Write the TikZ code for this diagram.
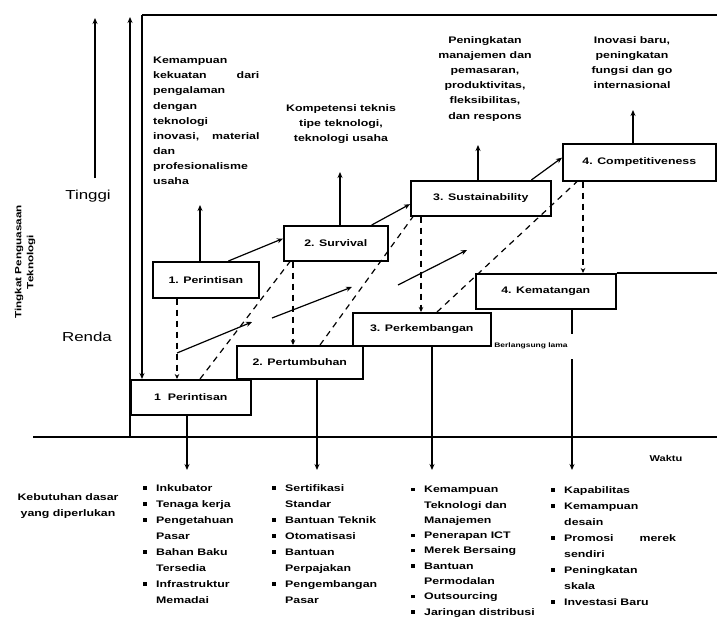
\documentclass[tikz,border=0pt]{standalone}
\usepackage{fontspec}
\setmainfont{Liberation Sans}[FakeStretch=1.3]
\usetikzlibrary{arrows.meta,calc}
\newcommand\mybul{\makebox[13pt][l]{\rule[1.5pt]{3.5pt}{3.5pt}}}
\newcommand\myind{\hspace*{13pt}}
\begin{document}
\begin{tikzpicture}[x=1pt,y=-1pt,
 box/.style={draw,line width=1.6pt,fill=white,inner sep=0pt,anchor=north west,font=\bfseries\fontsize{9.5}{11}\selectfont},
 note/.style={inner sep=0pt,anchor=north,align=center,font=\bfseries\fontsize{9.5}{15.2}\selectfont},
 lst/.style={inner sep=0pt,anchor=north west,align=left,font=\bfseries\fontsize{9.5}{16}\selectfont},
 ln/.style={line width=1.2pt},
 arr/.style={line width=1.2pt,-{Stealth[length=6pt,width=5pt]}},
 dsh/.style={line width=1.2pt,dash pattern=on 6pt off 5pt},
 dsharr/.style={dsh,-{Stealth[length=5pt,width=4.5pt]}}
]
\useasboundingbox (0,0) rectangle (717,618);

% boxes
\node[box,minimum width=106pt,minimum height=36pt] (u1) at (152,261) {1. Perintisan};
\node[box,minimum width=104pt,minimum height=35pt] (u2) at (283,225) {2. Survival};
\node[box,minimum width=140pt,minimum height=35pt] (u3) at (410,180) {3. Sustainability};
\node[box,minimum width=153pt,minimum height=37pt] (u4) at (562,143) {4. Competitiveness};
\node[box,minimum width=120pt,minimum height=35pt] (l1) at (130,379) {1\ \ Perintisan};
\node[box,minimum width=138pt,minimum height=33pt] (l3) at (352,312) {3. Perkembangan};
\node[box,minimum width=126pt,minimum height=33pt] (l2) at (236,345) {2. Pertumbuhan};
\node[box,minimum width=140pt,minimum height=35pt] (l4) at (475,273) {4. Kematangan};

% notes on top
\node[inner sep=0pt,anchor=north west,align=left,font=\bfseries\fontsize{9.5}{15.1}\selectfont] (t1) at (153,57)
 {Kemampuan\\kekuatan\hspace*{30pt}dari\\pengalaman\\dengan\\teknologi\\inovasi,\hspace*{13pt}material\\dan\\profesionalisme\\usaha};
\node[note] (t2) at (341,104) {Kompetensi teknis\\tipe teknologi,\\teknologi usaha};
\node[note] (t3) at (485,36) {Peningkatan\\manajemen dan\\pemasaran,\\produktivitas,\\fleksibilitas,\\dan respons};
\node[note] (t4) at (632,36) {Inovasi baru,\\peningkatan\\fungsi dan go\\internasional};

% axis labels
\node[font=\fontsize{13}{15}\selectfont,inner sep=0pt] (ti) at (88,196) {Tinggi};
\node[font=\fontsize{13}{15}\selectfont,inner sep=0pt] (re) at (87,337) {Renda};
\node[rotate=90,align=center,inner sep=0pt,font=\bfseries\fontsize{9}{12}\selectfont] (ylab) at (25,262) {Tingkat Penguasaan\\Teknologi};
\node[font=\bfseries\fontsize{8.5}{10}\selectfont,inner sep=0pt] (wk) at (666,458) {Waktu};
\node[font=\bfseries\fontsize{6.5}{8}\selectfont,inner sep=0pt] (bl) at (531,346) {Berlangsung lama};
\node[align=center,inner sep=0pt,font=\bfseries\fontsize{9.5}{16}\selectfont] (kb) at (68,506) {Kebutuhan dasar\\yang diperlukan};

% lists
\node[lst] (c1) at (143,484) {\mybul Inkubator\\\mybul Tenaga kerja\\\mybul Pengetahuan\\\myind Pasar\\\mybul Bahan Baku\\\myind Tersedia\\\mybul Infrastruktur\\\myind Memadai};
\node[lst] (c2) at (272,484) {\mybul Sertifikasi\\\myind Standar\\\mybul Bantuan Teknik\\\mybul Otomatisasi\\\mybul Bantuan\\\myind Perpajakan\\\mybul Pengembangan\\\myind Pasar};
\node[lst,font=\bfseries\fontsize{9.5}{15.3}\selectfont] (c3) at (411,486) {\mybul Kemampuan\\\myind Teknologi dan\\\myind Manajemen\\\mybul Penerapan ICT\\\mybul Merek Bersaing\\\mybul Bantuan\\\myind Permodalan\\\mybul Outsourcing\\\mybul Jaringan distribusi};
\node[lst] (c4) at (551,486) {\mybul Kapabilitas\\\mybul Kemampuan\\\myind desain\\\mybul Promosi\hspace*{26pt}merek\\\myind sendiri\\\mybul Peningkatan\\\myind skala\\\mybul Investasi Baru};

% coordinates
\coordinate (ftl) at (142,15);
\coordinate (ftr) at (717,15);
\coordinate (ya) at (130,437);
\coordinate (yb) at (130,17);
\coordinate (la) at (95,178);
\coordinate (lb) at (95,18);
\coordinate (xa) at (33,437);
\coordinate (xb) at (717,437);
\coordinate (hr) at (717,273);

% frame and axes
\draw[ln] (ftr) -- (ftl);
\draw[arr] (ftl) -- (l1.north -| ftl);
\draw[arr] (ya) -- (yb);
\draw[arr] (la) -- (lb);
\draw[ln] (xa) -- (xb);
\draw[ln] (l4.north east) -- (hr);

% up arrows to notes
\coordinate (p1) at (200,205);
\coordinate (p2) at (340,172);
\coordinate (p3) at (478,145);
\coordinate (p4) at (633,110);
\draw[arr] (u1.north -| p1) -- (p1);
\draw[arr] (u2.north -| p2) -- (p2);
\draw[arr] (u3.north -| p3) -- (p3);
\draw[arr] (u4.north -| p4) -- (p4);

% box to box
\draw[arr] ($(u1.north west)!0.71!(u1.north east)$) -- ($(u2.north west)!0.37!(u2.south west)$);
\draw[arr] ($(u2.north west)!0.84!(u2.north east)$) -- ($(u3.north west)!0.66!(u3.south west)$);
\draw[arr] ($(u3.north west)!0.857!(u3.north east)$) -- ($(u4.north west)!0.38!(u4.south west)$);

% dashed verticals
\coordinate (v1) at (177,0);
\coordinate (v2) at (293,0);
\coordinate (v3) at (421,0);
\coordinate (v4) at (583,0);
\draw[dsharr] (u1.south -| v1) -- (l1.north -| v1);
\draw[dsharr] (u2.south -| v2) -- (l2.north -| v2);
\draw[dsharr] (u3.south -| v3) -- (l3.north -| v3);
\draw[dsharr] (u4.south -| v4) -- (l4.north -| v4);

% dashed diagonals
\coordinate (d1a) at (200,0);
\coordinate (d1b) at (290,0);
\coordinate (d2a) at (320,0);
\coordinate (d2b) at (413,0);
\coordinate (d3a) at (437,0);
\coordinate (d3b) at (577,0);
\draw[dsh] (l1.north -| d1a) -- (u2.south -| d1b);
\draw[dsh] (l2.north -| d2a) -- (u3.south -| d2b);
\draw[dsh] (l3.north -| d3a) -- (u4.south -| d3b);

% trend arrows
\coordinate (s1a) at (177,353);
\coordinate (s1b) at (252,322);
\coordinate (s2a) at (272,318);
\coordinate (s2b) at (352,287);
\coordinate (s3a) at (398,285);
\coordinate (s3b) at (467,250);
\draw[arr] (s1a) -- (s1b);
\draw[arr] (s2a) -- (s2b);
\draw[arr] (s3a) -- (s3b);

% drops to lists
\coordinate (q1) at (187,470);
\coordinate (q2) at (317,470);
\coordinate (q3) at (432,470);
\coordinate (q4) at (572,470);
\coordinate (q4a) at (572,334);
\coordinate (q4b) at (572,359);
\draw[arr] (l1.south -| q1) -- (q1);
\draw[arr] (l2.south -| q2) -- (q2);
\draw[arr] (l3.south -| q3) -- (q3);
\draw[ln] (l4.south -| q4) -- (q4a);
\draw[arr] (q4b) -- (q4);
\end{tikzpicture}
\end{document}
